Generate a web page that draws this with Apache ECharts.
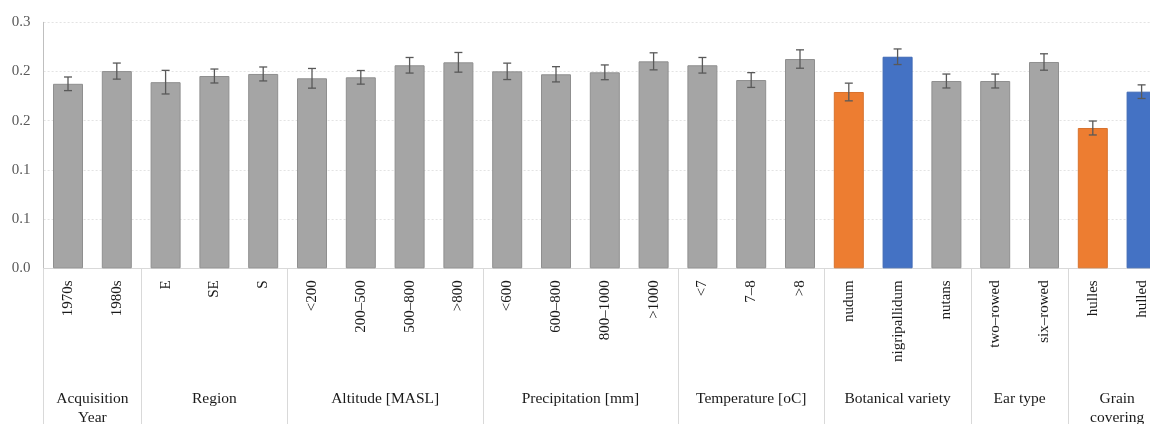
<!DOCTYPE html>
<html>
<head>
<meta charset="utf-8">
<script src="https://cdn.jsdelivr.net/npm/echarts@6/dist/echarts.min.js"></script>
<style>html,body{margin:0;padding:0;background:#fff;}#c{width:1150px;height:424px;}</style>
</head>
<body>
<div id="c"></div>
<script>
const categories = ['1970s','1980s','E','SE','S','<200','200–500','500–800','>800','<600','600–800','800–1000','>1000','<7','7–8','>8','nudum','nigripallidum','nutans','two–rowed','six–rowed','hulles','hulled'];
const values = [0.225,0.2405,0.227,0.2345,0.237,0.2317,0.2329,0.2476,0.2512,0.2402,0.2366,0.239,0.2524,0.2476,0.2296,0.2552,0.215,0.258,0.2284,0.2284,0.2516,0.1711,0.2154];
const errors = [0.0083,0.0098,0.0144,0.0085,0.0085,0.012,0.0083,0.0095,0.012,0.01,0.0093,0.009,0.0104,0.0095,0.009,0.0112,0.0108,0.0095,0.0085,0.0085,0.01,0.0085,0.0083];
const groupNames = ['Acquisition\nYear','Region','Altitude [MASL]','Precipitation [mm]','Temperature [oC]','Botanical variety','Ear type','Grain\ncovering'];
const groupSizes = [2,3,4,4,3,3,2,2];
const yTicks = [0,0.06,0.12,0.18,0.24,0.30];
const yTickLabels = ['0.0','0.1','0.1','0.2','0.2','0.3'];
const orangeCats = ['nudum','hulles'];
const blueCats = ['nigripallidum','hulled'];

const FONT = '"Liberation Serif", "Times New Roman", serif';
const bounds = [0];
groupSizes.forEach(s => bounds.push(bounds[bounds.length-1] + s));
const centers = groupSizes.map((s,i) => bounds[i] + s/2);

function fill(c){
  if (orangeCats.includes(c)) return '#ed7d31';
  if (blueCats.includes(c)) return '#4472c4';
  return '#a5a5a5';
}
function edge(c){
  if (orangeCats.includes(c)) return '#d8722d';
  if (blueCats.includes(c)) return '#3e68b4';
  return '#8f8f8f';
}

const chart = echarts.init(document.getElementById('c'), null, {renderer:'canvas'});
chart.setOption({
  animation:false,
  backgroundColor:'#fff',
  grid:{left:43.6, top:22.3, width:1122.4, height:246, containLabel:false, outerBoundsMode:'none'},
  xAxis:[{
    type:'category',
    data:categories,
    axisLine:{show:true, lineStyle:{color:'#d9d9d9', width:1}},
    axisTick:{show:false},
    axisLabel:{rotate:90, interval:0, margin:12, fontFamily:FONT, fontSize:15, color:'#1a1a1a'}
  },{
    type:'value',
    min:0, max:categories.length,
    position:'bottom',
    axisLine:{show:false},
    splitLine:{show:false},
    axisTick:{show:true, inside:false, length:160, customValues:bounds, lineStyle:{color:'#d9d9d9', width:1}},
    axisLabel:{show:true, customValues:centers, margin:121, fontFamily:FONT, fontSize:15.5, color:'#1a1a1a', lineHeight:19,
      formatter:function(v){ const k = centers.findIndex(c => Math.abs(c - v) < 1e-6); return k >= 0 ? groupNames[k] : ''; }}
  }],
  yAxis:{
    type:'value', min:0, max:0.3, interval:0.06,
    axisLine:{show:true, lineStyle:{color:'#bfbfbf', width:1}},
    axisTick:{show:false},
    splitLine:{show:true, lineStyle:{color:'#e3e3e3', type:[2,2], width:1}},
    axisLabel:{margin:13, fontFamily:FONT, fontSize:15, color:'#595959',
      formatter:function(v){ const k = yTicks.findIndex(t => Math.abs(t - v) < 1e-6); return k >= 0 ? yTickLabels[k] : ''; }}
  },
  series:[{
    type:'bar',
    xAxisIndex:0,
    barWidth:30,
    data:values.map((v,i) => ({value:v, itemStyle:{color:fill(categories[i]), borderColor:edge(categories[i]), borderWidth:1}}))
  },{
    type:'custom',
    xAxisIndex:0,
    data:values.map((v,i) => [i, v - errors[i], v + errors[i]]),
    encode:{x:0, y:[1,2]},
    z:10,
    renderItem:function(params, api){
      const i = api.value(0);
      const lo = api.coord([i, api.value(1)]);
      const hi = api.coord([i, api.value(2)]);
      const w = 4;
      const st = {stroke:'#595959', lineWidth:1.3};
      return {type:'group', children:[
        {type:'line', shape:{x1:hi[0], y1:hi[1], x2:lo[0], y2:lo[1]}, style:st},
        {type:'line', shape:{x1:hi[0]-w, y1:hi[1], x2:hi[0]+w, y2:hi[1]}, style:st},
        {type:'line', shape:{x1:lo[0]-w, y1:lo[1], x2:lo[0]+w, y2:lo[1]}, style:st}
      ]};
    }
  }]
});
</script>
</body>
</html>
